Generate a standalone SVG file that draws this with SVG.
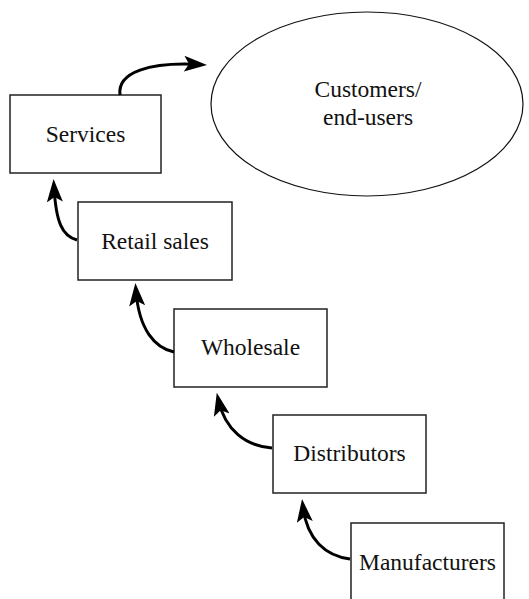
<svg xmlns="http://www.w3.org/2000/svg" width="529" height="599" viewBox="0 0 529 599">
<style>
.box{fill:#fff;stroke:#222;stroke-width:1.5}
.ell{fill:#fff;stroke:#111;stroke-width:1.2}
.lbl{font-family:"Liberation Serif","Times New Roman",serif;font-size:23.5px;fill:#111;text-anchor:middle}
.arr{fill:none;stroke:#000;stroke-width:3;marker-end:url(#ah)}
</style>
<defs>
<marker id="ah" markerUnits="userSpaceOnUse" markerWidth="26" markerHeight="18" refX="15" refY="8" orient="auto">
<path d="M0,0 L23,8 L0,16 L5,8 z" fill="#000"/>
</marker>
</defs>
<rect width="529" height="599" fill="#fff"/>
<g id="customers">
<ellipse class="ell" cx="367" cy="104" rx="156" ry="92"/>
<text class="lbl" x="368" y="97">Customers/</text>
<text class="lbl" x="368" y="125">end-users</text>
</g>
<g id="services">
<rect class="box" x="10" y="95" width="151" height="78"/>
<text class="lbl" x="85.5" y="142">Services</text>
</g>
<g id="retail">
<rect class="box" x="78" y="202" width="154" height="78"/>
<text class="lbl" x="155" y="249">Retail sales</text>
</g>
<g id="wholesale">
<rect class="box" x="174" y="309" width="153" height="78"/>
<text class="lbl" x="250.5" y="355">Wholesale</text>
</g>
<g id="distributors">
<rect class="box" x="273" y="415" width="153" height="78"/>
<text class="lbl" x="349.5" y="461">Distributors</text>
</g>
<g id="manufacturers">
<rect class="box" x="351" y="523" width="153" height="78"/>
<text class="lbl" x="427.5" y="570">Manufacturers</text>
</g>
<g id="connectors">
<path class="arr" d="M120,95 C117,72 150,62 199,64.5"/>
<path class="arr" d="M77,240 C62,236 56,222 54,187"/>
<path class="arr" d="M174,352 C155,348 139,330 136,291"/>
<path class="arr" d="M272,448 C246,446 225,430 218.5,400.5"/>
<path class="arr" d="M350,559 C326,556 307,540 303,507"/>
</g>
</svg>
